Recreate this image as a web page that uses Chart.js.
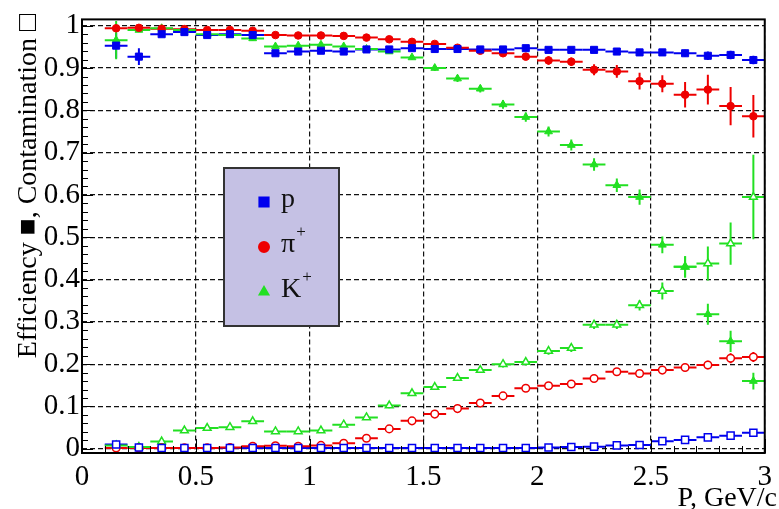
<!DOCTYPE html>
<html>
<head>
<meta charset="utf-8">
<script src="https://cdn.jsdelivr.net/npm/chart.js@4.4.1/dist/chart.umd.min.js"></script>
<style>
html, body { margin: 0; padding: 0; background: #fff; }
#chart { display: block; }
</style>
</head>
<body>
<canvas id="chart" width="779" height="509"></canvas>
<script>
'use strict';

// bin centres, GeV/c (bins are 0.1 wide)
const momentum = [0.15, 0.25, 0.35, 0.45, 0.55, 0.65, 0.75, 0.85, 0.95, 1.05,
    1.15, 1.25, 1.35, 1.45, 1.55, 1.65, 1.75, 1.85, 1.95, 2.05,
    2.15, 2.25, 2.35, 2.45, 2.55, 2.65, 2.75, 2.85, 2.95];
const binHalfWidth = 0.05;

// efficiency (filled markers)
const effProton = [0.953, 0.927, 0.980, 0.985, 0.978, 0.980, 0.978, 0.935, 0.939, 0.941,
    0.939, 0.944, 0.944, 0.947, 0.945, 0.945, 0.944, 0.944, 0.947, 0.943,
    0.943, 0.943, 0.939, 0.937, 0.937, 0.935, 0.929, 0.931, 0.919];
const effProtonErr = [0.03, 0.02, 0.005, 0.005, 0.004, 0.004, 0.004, 0.004, 0.004, 0.004,
    0.004, 0.004, 0.004, 0.004, 0.004, 0.004, 0.004, 0.004, 0.004, 0.005,
    0.005, 0.006, 0.006, 0.007, 0.007, 0.008, 0.01, 0.01, 0.01];

const effPion = [0.994, 0.995, 0.993, 0.992, 0.990, 0.990, 0.988, 0.978, 0.977, 0.977,
    0.976, 0.972, 0.968, 0.962, 0.957, 0.948, 0.941, 0.935, 0.927, 0.918,
    0.915, 0.896, 0.892, 0.869, 0.863, 0.837, 0.849, 0.810, 0.786];
const effPionErr = [0.006, 0.003, 0.002, 0.002, 0.002, 0.002, 0.006, 0.003, 0.003, 0.003,
    0.003, 0.003, 0.003, 0.004, 0.004, 0.004, 0.005, 0.006, 0.007, 0.01,
    0.01, 0.013, 0.015, 0.02, 0.02, 0.03, 0.035, 0.045, 0.05];

const effKaon = [0.966, 0.990, 0.994, 0.990, 0.980, 0.978, 0.970, 0.951, 0.953, 0.955,
    0.951, 0.945, 0.939, 0.925, 0.900, 0.875, 0.851, 0.814, 0.784, 0.750,
    0.718, 0.672, 0.623, 0.595, 0.482, 0.430, 0.318, 0.254, 0.160];
const effKaonErr = [0.045, 0.005, 0.003, 0.003, 0.004, 0.004, 0.006, 0.004, 0.004, 0.004,
    0.004, 0.005, 0.005, 0.006, 0.007, 0.008, 0.009, 0.01, 0.011, 0.012,
    0.013, 0.015, 0.016, 0.018, 0.02, 0.025, 0.025, 0.025, 0.02];

// contamination (open markers)
const contProton = [0.010, 0.003, 0.002, 0.002, 0.002, 0.002, 0.002, 0.002, 0.002, 0.002,
    0.002, 0.002, 0.002, 0.002, 0.002, 0.002, 0.002, 0.002, 0.002, 0.003,
    0.004, 0.005, 0.008, 0.009, 0.018, 0.021, 0.027, 0.031, 0.038];
const contProtonErr = [0.004, 0.002, 0.001, 0.001, 0.001, 0.001, 0.001, 0.001, 0.001, 0.001,
    0.001, 0.001, 0.001, 0.001, 0.001, 0.001, 0.001, 0.001, 0.001, 0.002,
    0.002, 0.002, 0.002, 0.003, 0.003, 0.003, 0.004, 0.004, 0.005];

const contPion = [0.002, 0.002, 0.002, 0.002, 0.002, 0.003, 0.006, 0.007, 0.006, 0.008,
    0.013, 0.025, 0.047, 0.066, 0.082, 0.095, 0.108, 0.125, 0.143, 0.149,
    0.153, 0.166, 0.182, 0.178, 0.186, 0.192, 0.198, 0.214, 0.217];
const contPionErr = [0.002, 0.001, 0.001, 0.001, 0.001, 0.001, 0.002, 0.002, 0.002, 0.002,
    0.003, 0.003, 0.004, 0.004, 0.004, 0.005, 0.005, 0.005, 0.006, 0.006,
    0.006, 0.007, 0.007, 0.008, 0.008, 0.009, 0.01, 0.012, 0.012];

const contKaon = [0.008, 0.004, 0.017, 0.043, 0.049, 0.051, 0.065, 0.041, 0.041, 0.043,
    0.057, 0.074, 0.102, 0.131, 0.146, 0.167, 0.186, 0.200, 0.205, 0.231,
    0.238, 0.293, 0.293, 0.339, 0.373, 0.430, 0.438, 0.485, 0.595];
const contKaonErr = [0.005, 0.003, 0.004, 0.005, 0.005, 0.005, 0.006, 0.004, 0.004, 0.004,
    0.005, 0.005, 0.006, 0.006, 0.006, 0.007, 0.007, 0.008, 0.008, 0.009,
    0.009, 0.01, 0.01, 0.012, 0.02, 0.025, 0.04, 0.05, 0.1];

const xTickValues = [0, 0.5, 1, 1.5, 2, 2.5, 3];
const xTickLabels = ['0', '0.5', '1', '1.5', '2', '2.5', '3'];
const yTickValues = [0, 0.1, 0.2, 0.3, 0.4, 0.5, 0.6, 0.7, 0.8, 0.9, 1];
const yTickLabels = ['0', '0.1', '0.2', '0.3', '0.4', '0.5', '0.6', '0.7', '0.8', '0.9', '1'];

const legendNames = ['p', 'π', 'K'];
const legendCharges = ['', '+', '+'];

const BLUE = '#0000ee';
const RED = '#ee0000';
const GREEN = '#22e022';
const SERIF = '"Liberation Serif", "Times New Roman", serif';

function points(values) {
    return values.map((v, i) => ({x: momentum[i], y: v}));
}

function series(values, errs, color, style, radius, open) {
    return {
        data: points(values),
        errY: errs,
        borderColor: color,
        backgroundColor: open ? '#fff' : color,
        pointStyle: style,
        pointRadius: radius,
        pointBorderWidth: open ? 1.5 : 1,
        showLine: false
    };
}

const errorBars = {
    id: 'errorBars',
    beforeDatasetsDraw(chart) {
        const {ctx, chartArea, scales: {x, y}} = chart;
        ctx.save();
        ctx.beginPath();
        ctx.rect(chartArea.left, chartArea.top, chartArea.width, chartArea.height);
        ctx.clip();
        ctx.lineWidth = 2;
        chart.data.datasets.forEach(ds => {
            ctx.strokeStyle = ds.borderColor;
            ds.data.forEach((p, i) => {
                const px = x.getPixelForValue(p.x);
                const py = y.getPixelForValue(p.y);
                ctx.beginPath();
                ctx.moveTo(x.getPixelForValue(p.x - binHalfWidth), py);
                ctx.lineTo(x.getPixelForValue(p.x + binHalfWidth), py);
                ctx.moveTo(px, y.getPixelForValue(p.y - ds.errY[i]));
                ctx.lineTo(px, y.getPixelForValue(p.y + ds.errY[i]));
                ctx.stroke();
            });
        });
        ctx.restore();
    }
};

// ROOT style frame, inner ticks, axis titles and legend
const decorations = {
    id: 'decorations',
    afterDraw(chart) {
        const {ctx, chartArea: a, scales: {x, y}} = chart;
        ctx.save();

        ctx.strokeStyle = '#000';
        ctx.lineWidth = 1;
        ctx.beginPath();
        for (let v = 0; v <= 1.0001; v += 0.02) {
            const py = Math.round(y.getPixelForValue(v)) + 0.5;
            const major = Math.abs(v * 10 - Math.round(v * 10)) < 0.001;
            ctx.moveTo(a.left, py);
            ctx.lineTo(a.left + (major ? 11 : 6), py);
        }
        for (let v = 0; v <= 3.0001; v += 0.1) {
            const px = Math.round(x.getPixelForValue(v)) + 0.5;
            const major = Math.abs(v * 2 - Math.round(v * 2)) < 0.001;
            ctx.moveTo(px, a.bottom);
            ctx.lineTo(px, a.bottom - (major ? 14 : 7));
        }
        ctx.stroke();

        ctx.lineWidth = 2;
        ctx.strokeRect(a.left, a.top, a.right - a.left, a.bottom - a.top);

        ctx.fillStyle = '#000';
        ctx.font = '28px ' + SERIF;
        ctx.textAlign = 'right';
        ctx.textBaseline = 'alphabetic';
        ctx.fillText('P, GeV/c', 777, 506);

        ctx.translate(36, 14);
        ctx.rotate(-Math.PI / 2);
        ctx.fillText('Efficiency \u25A0, Contamination \u25A1', 0, 0);
        ctx.restore();

        // legend box
        ctx.save();
        ctx.fillStyle = '#c5c1e4';
        ctx.fillRect(224, 168, 115, 158);
        ctx.strokeStyle = '#333';
        ctx.lineWidth = 2;
        ctx.strokeRect(224, 168, 115, 158);
        const styles = ['rect', 'circle', 'triangle'];
        const colors = [BLUE, RED, GREEN];
        const radii = [6.5, 5, 5];
        legendNames.forEach((name, i) => {
            const cy = 202 + i * 45;
            ctx.fillStyle = colors[i];
            ctx.strokeStyle = colors[i];
            Chart.helpers.drawPoint(ctx, {pointStyle: styles[i], radius: radii[i], rotation: 0, borderWidth: 1}, 264, cy);
            ctx.fillStyle = '#111';
            ctx.textAlign = 'left';
            ctx.textBaseline = 'alphabetic';
            ctx.font = '28px ' + SERIF;
            ctx.fillText(name, 281, cy + 5);
            const w = ctx.measureText(name).width;
            ctx.font = '17px ' + SERIF;
            ctx.fillText(legendCharges[i], 281 + w + 1, cy - 10);
        });
        ctx.restore();
    }
};

Chart.defaults.font.family = SERIF;
Chart.defaults.color = '#000';

const gridOpts = {color: '#111', lineWidth: 1.2, drawTicks: false};
const borderOpts = {display: false, dash: [5, 3]};

new Chart(document.getElementById('chart'), {
    type: 'scatter',
    data: {
        datasets: [
            series(effProton, effProtonErr, BLUE, 'rect', 5, false),
            series(effPion, effPionErr, RED, 'circle', 3.8, false),
            series(effKaon, effKaonErr, GREEN, 'triangle', 4.5, false),
            series(contProton, contProtonErr, BLUE, 'rect', 5, true),
            series(contPion, contPionErr, RED, 'circle', 3.8, true),
            series(contKaon, contKaonErr, GREEN, 'triangle', 4.5, true)
        ]
    },
    options: {
        responsive: false,
        animation: false,
        events: [],
        layout: {padding: {left: 0, right: 13, top: 16, bottom: 0}},
        plugins: {legend: {display: false}, tooltip: {enabled: false}},
        scales: {
            x: {
                type: 'linear',
                min: 0,
                max: 3,
                grid: gridOpts,
                border: borderOpts,
                afterBuildTicks: scale => { scale.ticks = xTickValues.map(v => ({value: v})); },
                afterFit: scale => { scale.height = 56; },
                ticks: {
                    autoSkip: false,
                    maxRotation: 0,
                    padding: 7,
                    font: {size: 29},
                    callback: (v, i) => xTickLabels[i]
                }
            },
            y: {
                type: 'linear',
                min: -0.01,
                max: 1.015,
                grid: gridOpts,
                border: borderOpts,
                afterBuildTicks: scale => { scale.ticks = yTickValues.map(v => ({value: v})); },
                afterFit: scale => { scale.width = 82; },
                ticks: {
                    autoSkip: false,
                    padding: 2,
                    font: {size: 29},
                    callback: (v, i) => yTickLabels[i]
                }
            }
        }
    },
    plugins: [errorBars, decorations]
});
</script>
</body>
</html>
